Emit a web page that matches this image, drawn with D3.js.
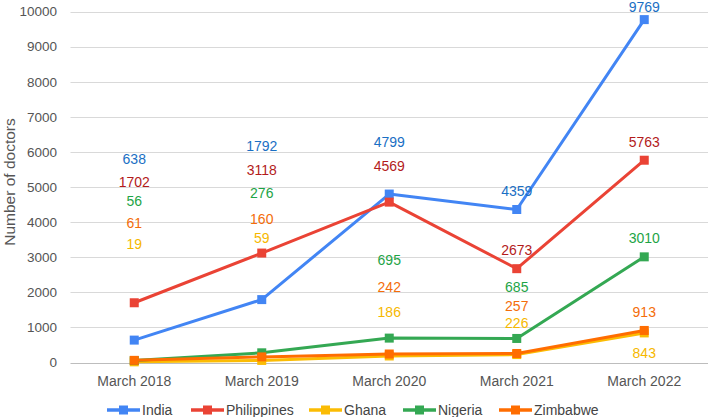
<!DOCTYPE html>
<html>
<head>
<meta charset="utf-8">
<script src="https://cdn.jsdelivr.net/npm/d3@7"></script>
<style>
  html, body { margin: 0; padding: 0; background: #fff; }
  svg { display: block; font-family: "Liberation Sans", Arial, sans-serif; }
</style>
</head>
<body>
<svg id="chart" width="708" height="417"></svg>
<script>
const categories = ["March 2018", "March 2019", "March 2020", "March 2021", "March 2022"];
const seriesNames = ["India", "Philippines", "Ghana", "Nigeria", "Zimbabwe"];
const india = [638, 1792, 4799, 4359, 9769];
const philippines = [1702, 3118, 4569, 2673, 5763];
const ghana = [19, 59, 186, 226, 843];
const nigeria = [56, 276, 695, 685, 3010];
const zimbabwe = [61, 160, 242, 257, 913];
const yTicks = [0, 1000, 2000, 3000, 4000, 5000, 6000, 7000, 8000, 9000, 10000];

// where each data label sits, in axis units (labels are stacked to avoid collisions)
const labelAtIndia = [5800, 6170, 6280, 4890, 10130];
const labelAtPhilippines = [5140, 5480, 5600, 3210, 6280];
const labelAtGhana = [3380, 3550, 1440, 1130, 270];
const labelAtNigeria = [4600, 4830, 2920, 2150, 3550];
const labelAtZimbabwe = [3975, 4090, 2150, 1610, 1440];

(function () {
const seriesValues = [india, philippines, ghana, nigeria, zimbabwe];
const labelAt = [labelAtIndia, labelAtPhilippines, labelAtGhana, labelAtNigeria, labelAtZimbabwe];
const lineColors = ["#4285f4", "#ea4335", "#fbbc04", "#34a853", "#ff6d01"];
const labelColors = ["#1a6fc4", "#b31b1b", "#f6b800", "#1ea446", "#f46d0a"];

const svg = d3.select("#chart");
const mLeft = 70.5, mRight = 708, mTop = 11.5, mBottom = 362.5;

const x = d3.scaleBand().domain(categories).range([mLeft, mRight]);
const cx = c => x(c) + x.bandwidth() / 2;
const y = d3.scaleLinear().domain([0, 10000]).range([mBottom, mTop]);

// gridlines
svg.append("g").selectAll("line").data(yTicks).join("line")
  .attr("x1", mLeft).attr("x2", mRight)
  .attr("y1", d => Math.round(y(d)) + 0.5).attr("y2", d => Math.round(y(d)) + 0.5)
  .attr("stroke", d => d === 0 ? "#bdbdbd" : "#d9d9d9").attr("stroke-width", 1);

// y axis labels
const yAxis = d3.axisLeft(y).tickValues(yTicks).tickSize(0).tickPadding(0).tickFormat(d3.format("d"));
const gy = svg.append("g").attr("transform", "translate(57,0)").call(yAxis);
gy.select(".domain").remove();
gy.selectAll("text").attr("font-size", 13.5).attr("fill", "#555").attr("font-family", "Liberation Sans, Arial, sans-serif");

// x axis labels
const xAxis = d3.axisBottom(x).tickSize(0).tickPadding(0);
const gx = svg.append("g").attr("transform", "translate(0,376)").call(xAxis);
gx.select(".domain").remove();
gx.selectAll("text").attr("font-size", 14).attr("fill", "#555").attr("font-family", "Liberation Sans, Arial, sans-serif");

// y title
svg.append("text")
  .attr("transform", "translate(9,182) rotate(-90)")
  .attr("text-anchor", "middle").attr("dominant-baseline", "central")
  .attr("font-size", 15.5).attr("fill", "#555")
  .text("Number of doctors");

// lines and markers
const line = d3.line().x((d, i) => cx(categories[i])).y(d => y(d));
seriesValues.forEach((vals, s) => {
  const g = svg.append("g");
  g.append("path").datum(vals).attr("d", line)
    .attr("fill", "none").attr("stroke", lineColors[s]).attr("stroke-width", 3)
    .attr("stroke-linejoin", "round");
  g.selectAll("rect").data(vals).join("rect")
    .attr("x", (d, i) => cx(categories[i]) - 4.5)
    .attr("y", d => y(d) - 4.5)
    .attr("width", 9).attr("height", 9)
    .attr("fill", lineColors[s]);
});

// data labels
seriesValues.forEach((vals, s) => {
  svg.append("g").selectAll("text").data(vals).join("text")
    .attr("x", (d, i) => cx(categories[i]))
    .attr("y", (d, i) => y(labelAt[s][i]))
    .attr("text-anchor", "middle").attr("dominant-baseline", "central")
    .attr("font-size", 14).attr("fill", labelColors[s])
    .text(d => d);
});

// legend
const legendX = [107, 191, 309, 403, 499];
const lg = svg.append("g").attr("transform", "translate(0,410)");
seriesNames.forEach((name, s) => {
  const gx0 = legendX[s];
  lg.append("line").attr("x1", gx0).attr("x2", gx0 + 33).attr("y1", 0).attr("y2", 0)
    .attr("stroke", lineColors[s]).attr("stroke-width", 3.5);
  lg.append("rect").attr("x", gx0 + 12).attr("y", -4.5).attr("width", 9).attr("height", 9)
    .attr("fill", lineColors[s]);
  lg.append("text").attr("x", gx0 + 35).attr("y", 0)
    .attr("dominant-baseline", "central").attr("font-size", 14).attr("fill", "#444")
    .text(name);
});
})();
</script>
</body>
</html>
